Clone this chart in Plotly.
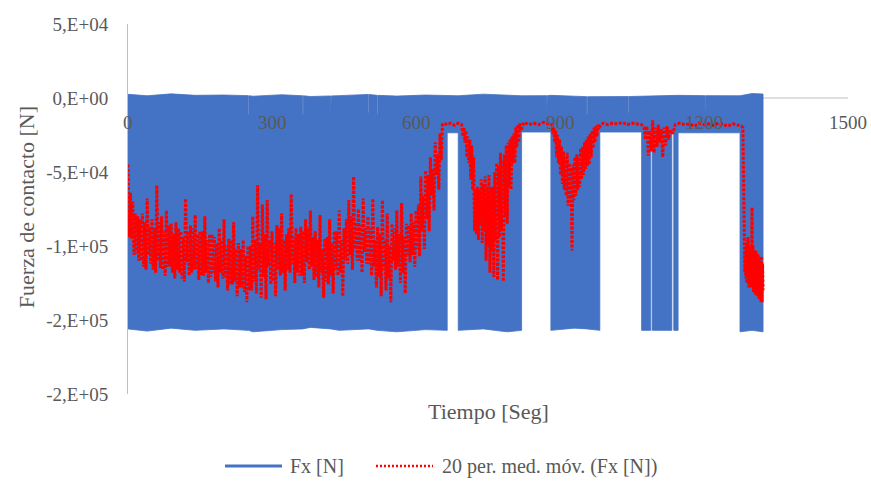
import plotly.graph_objects as go

# ---------------- data ----------------
# Fx [N] : envelope of the fast oscillation (kN); gaps where the signal stays near the top,
# thin notches where the peaks do not reach zero
blue_t = [0, 40, 90, 140, 200, 250, 250, 251.5, 251.5, 260, 320, 364, 364, 365.5, 365.5,
          380, 422, 422, 423.5, 423.5, 440, 500, 500, 501.5, 501.5, 519, 519, 520.5, 520.5,
          560, 620, 665, 665, 688, 688, 740, 790, 820, 820, 872, 872, 873.5, 873.5, 881, 881,
          930, 956, 956, 957.5, 957.5, 983, 983, 1042, 1042, 1043.5, 1043.5, 1070, 1070,
          1089, 1089, 1092, 1092, 1133, 1133, 1137, 1137, 1146, 1146, 1202, 1202, 1203.5, 1203.5,
          1275, 1275, 1300, 1323]
blue_hi = [2.5, 1.5, 2.8, 1.8, 2.0, 1.6, -11, -11, 1.6, 1.2, 2.2, 1.5, -11, -11, 1.5,
           1.0, 1.4, -12, -12, 1.4, 1.6, 2.4, -10, -10, 2.4, 1.8, -11, -11, 1.8,
           1.3, 2.0, 1.8, 1.8, 1.5, 1.5, 2.6, 1.7, 1.5, 1.5, 1.6, -11, -11, 1.6, 1.8, 1.8,
           1.0, 0.9, -11, -11, 0.9, 0.8, 0.8, 1.0, -10, -10, 1.0, 1.2, 1.2,
           1.5, 1.5, 1.5, 1.5, 1.5, 1.5, 1.5, 1.5, 1.8, 1.8, 1.6, -11, -11, 1.6,
           1.5, 1.5, 3.0, 2.7]
blue_lo = [-156, -157.5, -155.5, -157, -156, -157, -157, -157, -157, -158, -156.5, -156, -156, -156, -156,
           -155, -156, -156, -156, -156, -157, -156, -156, -156, -156, -157, -157, -157, -157,
           -158, -156.5, -157, -23.5, -23.5, -157, -156, -158, -157, -23, -23, -23, -23, -23, -23, -157,
           -155.5, -156, -156, -156, -156, -157, -23, -23, -23, -23, -23, -23, -157,
           -157, -23, -23, -157, -157, -23, -23, -157, -157, -23.5, -23.5, -23.5, -23.5, -23.5,
           -23.5, -158, -157, -158]

# 20 per. med. móv. (Fx [N]) (kN), read segment by segment
red_t_a = [0, 2.5, 5, 7.5, 10, 12.5, 15, 17.5, 20, 22.5, 25, 27.5, 30, 32.5, 35, 37.5, 40, 42.5, 45, 47.5,
           50, 52.5, 55, 57.5, 60, 62.5, 65, 67.5, 70, 72.5, 75, 77.5, 80, 82.5, 85, 87.5, 90, 92.5, 95, 97.5,
           100, 102.5, 105, 107.5, 110, 112.5, 115, 117.5, 120, 122.5, 125, 127.5, 130, 132.5, 135, 137.5, 140, 142.5, 145, 147.5,
           150, 152.5, 155, 157.5, 160, 162.5, 165, 167.5, 170, 172.5, 175, 177.5, 180, 182.5, 185, 187.5, 190, 192.5, 195, 197.5,
           200, 202.5, 205, 207.5, 210, 212.5, 215, 217.5, 220, 222.5, 225, 227.5, 230, 232.5, 235, 237.5, 240, 242.5, 245, 247.5,
           250, 252.5, 255, 257.5, 260, 262.5, 265, 267.5, 270, 272.5, 275, 277.5, 280, 282.5, 285, 287.5, 290, 292.5, 295, 297.5,
           300, 302.5, 305, 307.5, 310, 312.5, 315, 317.5, 320, 322.5, 325, 327.5, 330, 332.5, 335, 337.5, 340, 342.5, 345, 347.5,
           350, 352.5, 355, 357.5, 360, 362.5, 365, 367.5, 370, 372.5, 375, 377.5, 380, 382.5, 385, 387.5, 390, 392.5, 395, 397.5,
           400, 402.5, 405, 407.5, 410, 412.5, 415, 417.5, 420, 422.5, 425, 427.5, 430, 432.5, 435, 437.5, 440, 442.5, 445, 447.5,
           450, 452.5, 455, 457.5, 460, 462.5, 465, 467.5, 470, 472.5, 475, 477.5, 480, 482.5, 485, 487.5, 490, 492.5, 495, 497.5,
           500, 502.5, 505, 507.5, 510, 512.5, 515, 517.5, 520, 522.5, 525, 527.5, 530, 532.5, 535, 537.5, 540, 542.5, 545, 547.5,
           550, 552.5, 555, 557.5, 560, 562.5, 565, 567.5, 570, 572.5, 575, 577.5, 580, 582.5, 585, 587.5, 590, 592.5, 595, 597.5,
           600, 602.5, 605, 607.5, 610, 612.5, 615, 617.5, 620, 622.5, 625, 627.5, 630, 632.5, 635, 637.5, 640, 642.5, 645, 647.5,
           650, 652.5, 655, 658]
red_v_a = [-45, -94, -64, -95, -70, -106, -78, -105, -80, -110, -82, -110, -78, -114, -84, -116, -68, -106, -87, -112,
           -82, -116, -88, -118, -59, -110, -84, -115, -80, -116, -90, -120, -76, -114, -86, -114, -85, -118, -92, -122,
           -84, -116, -88, -118, -90, -122, -94, -124, -68, -111, -90, -120, -86, -118, -88, -116, -79, -116, -92, -123,
           -90, -120, -90, -120, -80, -118, -96, -125, -92, -121, -92, -118, -94, -124, -98, -128, -88, -118, -96, -122,
           -82, -121, -100, -130, -95, -126, -96, -126, -84, -124, -102, -134, -98, -128, -102, -128, -96, -131, -107, -138,
           -100, -130, -100, -130, -80, -124, -96, -132, -59, -116, -98, -135, -72, -121, -92, -136, -69, -114, -96, -126,
           -90, -124, -98, -134, -86, -116, -88, -120, -78, -118, -96, -130, -92, -116, -88, -118, -65, -112, -94, -125,
           -88, -118, -92, -120, -87, -120, -90, -125, -82, -111, -88, -116, -76, -114, -94, -123, -90, -121, -96, -128,
           -79, -118, -102, -135, -95, -124, -94, -126, -82, -120, -98, -132, -90, -116, -90, -120, -76, -118, -96, -134,
           -88, -110, -82, -112, -69, -106, -80, -116, -53, -102, -84, -110, -75, -110, -86, -118, -68, -104, -88, -112,
           -80, -112, -88, -120, -68, -114, -96, -128, -87, -121, -92, -134, -69, -116, -96, -130, -78, -122, -100, -138,
           -85, -110, -88, -116, -76, -114, -92, -125, -71, -118, -94, -132, -85, -106, -86, -111, -78, -106, -84, -114,
           -76, -102, -72, -107, -53, -90, -66, -102, -49, -82, -52, -90, -40, -66, -48, -76, -30, -52, -38, -62,
           -24, -42, -18, -17]

red_t_b = [665, 672, 680, 688, 695,
           698, 700, 702, 704, 706, 708, 710, 712, 714, 716, 718, 720, 722, 724, 726, 728, 730, 732, 734, 736,
           738, 740, 742, 744, 746, 748, 750, 752, 754, 756, 758, 760, 762, 764, 766, 768, 770, 772, 774, 776,
           778, 780, 782, 784, 786, 788, 790, 792, 794, 796, 798, 800, 802, 804, 806, 808, 810, 812, 814, 816, 818]
red_v_b = [-18, -17, -18.5, -17, -18,
           -26, -20, -30, -22, -40, -26, -44, -28, -55, -32, -62, -40, -90, -62, -92, -60, -96, -62, -86, -55,
           -98, -58, -90, -53, -110, -60, -100, -52, -118, -60, -104, -60, -121, -50, -96, -44, -123, -46, -94, -37,
           -90, -42, -124, -38, -80, -32, -85, -30, -60, -28, -62, -26, -44, -24, -44, -20, -33, -18, -30, -17, -22]

red_t_c = [825, 835, 845, 855, 865, 875,
           883, 885, 887, 889, 891, 893, 895, 897, 899, 901, 903, 905, 907, 909, 911, 913, 915, 917, 919,
           921, 923, 925, 927, 929, 931, 933, 935, 937, 939, 941, 943, 945, 947, 949, 951, 953, 955, 957, 959,
           961, 963, 965, 967, 969, 971, 973, 975, 977, 979, 981]
red_v_c = [-16.5, -18, -17, -18, -16.5, -17.5,
           -18, -24, -20, -30, -22, -40, -25, -44, -28, -52, -33, -58, -36, -62, -40, -66, -37, -73, -44,
           -70, -47, -103, -45, -69, -40, -66, -38, -62, -40, -60, -34, -55, -33, -52, -30, -48, -28, -46, -26,
           -45, -24, -40, -22, -34, -20, -30, -19, -26, -18, -20]

red_t_d = [990, 1000, 1010, 1020, 1030, 1040, 1050, 1060, 1070, 1075, 1078, 1081, 1084, 1087, 1090, 1093, 1096,
           1099, 1102, 1105, 1108, 1111, 1114, 1117, 1120, 1123, 1126, 1130, 1135, 1140,
           1150, 1160, 1170, 1180, 1190, 1200, 1210, 1220, 1230, 1240, 1250, 1260, 1270, 1278, 1281]
red_v_d = [-17, -18, -17, -17.5, -16.5, -18, -17, -17.5, -18, -20, -28, -19, -39, -22, -36, -15, -37,
           -20, -33, -18, -30, -21, -40, -20, -32, -19, -28, -22, -24, -18,
           -17, -18, -17.5, -19, -17, -18, -17.5, -18.5, -17, -18, -19, -17.5, -18.5, -19, -20]

red_t_e = [1284, 1285, 1286, 1287, 1288, 1289, 1290, 1291, 1292, 1293, 1294, 1295, 1296, 1297, 1298, 1299,
           1300, 1301, 1302, 1303, 1304, 1305, 1306, 1307, 1308, 1309, 1310, 1311, 1312, 1313, 1314, 1315,
           1316, 1317, 1318, 1319, 1320, 1321, 1322, 1323]
red_v_e = [-105, -118, -104, -122, -100, -125, -96, -122, -94, -128, -104, -126, -100, -128, -106, -127,
           -74, -127, -100, -131, -103, -130, -105, -133, -103, -131, -106, -134, -105, -133, -107, -136,
           -108, -135, -110, -138, -107, -138, -112, -130]

x_tick_vals = [0, 300, 600, 900, 1200, 1500]
x_tick_text = ["0", "300", "600", "900", "1200", "1500"]
y_tick_vals = [50000, 0, -50000, -100000, -150000, -200000]
y_tick_text = ["5,E+04", "0,E+00", "-5,E+04", "-1,E+05", "-2,E+05", "-2,E+05"]

name_fx = "Fx [N]"
name_ma = "20 per. med. móv. (Fx [N])"

# ---------------- figure ----------------
BLUE = "#4472C4"
RED = "#FF0000"
GRAY_TXT = "#595959"
AXIS = "#BFBFBF"
FONT = "Liberation Serif, Times New Roman, serif"

poly_x = blue_t + blue_t[::-1]
poly_y = [v * 1000 for v in blue_hi] + [v * 1000 for v in blue_lo[::-1]]

red_t = red_t_a + red_t_b + red_t_c + red_t_d + red_t_e
red_v = red_v_a + red_v_b + red_v_c + red_v_d + red_v_e

fig = go.Figure()
fig.add_trace(go.Scatter(x=poly_x, y=poly_y, fill="toself", fillcolor=BLUE,
                         mode="lines", line=dict(color=BLUE, width=0.8),
                         name=name_fx, showlegend=False, hoverinfo="skip"))
fig.add_trace(go.Scatter(x=red_t, y=[v * 1000 for v in red_v], mode="lines",
                         line=dict(color=RED, width=3, dash="3px,1.5px"),
                         name=name_ma, showlegend=False))

shapes = [
    dict(type="line", xref="x", yref="y", x0=0, x1=1500, y0=0, y1=0,
         line=dict(color=AXIS, width=1), layer="below"),
]
annotations = []
for v, t in zip(x_tick_vals, x_tick_text):
    annotations.append(dict(x=v, y=0, xref="x", yref="y", text=t, showarrow=False,
                            yanchor="top", xanchor="center", yshift=-12,
                            font=dict(family=FONT, size=19, color=GRAY_TXT)))
annotations.append(dict(x=0.5, y=-0.046, xref="paper", yref="paper", text="Tiempo [Seg]",
                        showarrow=False, xanchor="center", yanchor="middle",
                        font=dict(family=FONT, size=22, color=GRAY_TXT)))
annotations.append(dict(x=-0.1417, y=0.505, xref="paper", yref="paper",
                        text="Fuerza de contacto [N]", textangle=-90,
                        showarrow=False, xanchor="center", yanchor="middle",
                        font=dict(family=FONT, size=22, color=GRAY_TXT)))

# legend (drawn manually to match the reference layout)
LY = -0.1946
shapes.append(dict(type="line", xref="paper", yref="paper", x0=0.1347, x1=0.2139, y0=LY, y1=LY,
                   line=dict(color=BLUE, width=3)))
shapes.append(dict(type="line", xref="paper", yref="paper", x0=0.3444, x1=0.4236, y0=LY, y1=LY,
                   line=dict(color=RED, width=2.5, dash="2px,2px")))
annotations.append(dict(x=0.2222, y=LY, xref="paper", yref="paper", text=name_fx,
                        showarrow=False, xanchor="left", yanchor="middle",
                        font=dict(family=FONT, size=20, color=GRAY_TXT)))
annotations.append(dict(x=0.4333, y=LY, xref="paper", yref="paper", text=name_ma,
                        showarrow=False, xanchor="left", yanchor="middle",
                        font=dict(family=FONT, size=20, color=GRAY_TXT)))

fig.update_layout(
    width=871, height=485, autosize=False,
    margin=dict(l=128, r=23, t=24, b=91, pad=0),
    paper_bgcolor="white", plot_bgcolor="white",
    showlegend=False,
    shapes=shapes, annotations=annotations,
    font=dict(family=FONT, color=GRAY_TXT),
    xaxis=dict(range=[0, 1500], showgrid=False, zeroline=False, showline=False,
               showticklabels=False, ticks="", fixedrange=True),
    yaxis=dict(range=[-200000, 50000], tickvals=y_tick_vals, ticktext=y_tick_text,
               showgrid=False, zeroline=False, showline=True, linecolor=AXIS, linewidth=1,
               ticks="", ticklabelstandoff=15,
               tickfont=dict(family=FONT, size=19, color=GRAY_TXT), fixedrange=True),
)

fig.write_html("out.html", config={"displayModeBar": False},
               post_script="document.body.style.margin='0px';")
